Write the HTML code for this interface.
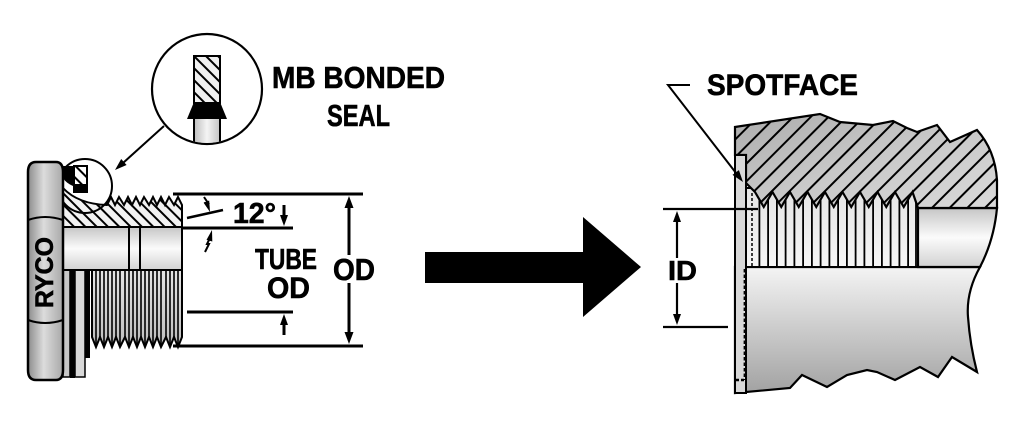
<!DOCTYPE html>
<html><head><meta charset="utf-8"><style>
html,body{margin:0;padding:0;background:#fff;}
svg{display:block;}
text{font-family:"Liberation Sans",sans-serif;font-weight:bold;fill:#000;stroke:#000;stroke-width:0.6;}
</style></head><body>
<svg width="1015" height="448" viewBox="0 0 1015 448" xmlns="http://www.w3.org/2000/svg">
<defs>
  <pattern id="hR" patternUnits="userSpaceOnUse" width="12.5" height="12.5" patternTransform="rotate(45)">
    <line x1="6" y1="0" x2="6" y2="12.5" stroke="#000" stroke-width="2"/>
  </pattern>
  <pattern id="hL" patternUnits="userSpaceOnUse" width="8" height="8" patternTransform="rotate(-45)">
    <line x1="4" y1="0" x2="4" y2="8" stroke="#000" stroke-width="2"/>
  </pattern>
  <pattern id="hI" patternUnits="userSpaceOnUse" width="8.5" height="8.5" patternTransform="rotate(-45)">
    <line x1="4" y1="0" x2="4" y2="8.5" stroke="#000" stroke-width="2"/>
  </pattern>
  <linearGradient id="gNut" x1="0" y1="0" x2="1" y2="0">
    <stop offset="0" stop-color="#8c8c8c"/><stop offset="0.45" stop-color="#dcdcdc"/><stop offset="1" stop-color="#a8a8a8"/>
  </linearGradient>
  <linearGradient id="gBody" x1="0" y1="0" x2="1" y2="1">
    <stop offset="0" stop-color="#acacac"/><stop offset="0.5" stop-color="#c8c8c8"/><stop offset="1" stop-color="#dadada"/>
  </linearGradient>
  <linearGradient id="gLow" x1="0" y1="0" x2="0" y2="1">
    <stop offset="0" stop-color="#f4f4f4"/><stop offset="1" stop-color="#a2a2a2"/>
  </linearGradient>
  <linearGradient id="gBore" x1="0" y1="0" x2="0" y2="1">
    <stop offset="0" stop-color="#c6c6c6"/><stop offset="0.5" stop-color="#fbfbfb"/><stop offset="1" stop-color="#d2d2d2"/>
  </linearGradient>
  <linearGradient id="gThr" x1="0" y1="0" x2="0" y2="1">
    <stop offset="0" stop-color="#e4e4e4"/><stop offset="1" stop-color="#f6f6f6"/>
  </linearGradient>
  <linearGradient id="gLT" x1="0" y1="0" x2="0" y2="1">
    <stop offset="0" stop-color="#e6e6e6"/><stop offset="1" stop-color="#bdbdbd"/>
  </linearGradient>
  <linearGradient id="gCol" x1="0" y1="0" x2="1" y2="0">
    <stop offset="0" stop-color="#bdbdbd"/><stop offset="0.5" stop-color="#f4f4f4"/><stop offset="1" stop-color="#c4c4c4"/>
  </linearGradient>
  <clipPath id="cInset"><circle cx="207" cy="89" r="54"/></clipPath>
</defs>

<!-- ============ LEFT FITTING ============ -->
<rect x="63" y="268" width="7" height="109" fill="#c8c8c8" stroke="#000" stroke-width="1.5"/>
<rect x="70" y="268" width="5" height="110" fill="#000"/>
<rect x="75" y="268" width="10" height="109" fill="#d8d8d8" stroke="#000" stroke-width="1.5"/>
<rect x="85" y="268" width="5" height="90" fill="#000"/>
<path d="M92,270 L182,270 L182,337 L178,347 L174,337 L170,347 L166,337 L161,347 L157,337 L153,347 L149,337 L145,347 L141,337 L137,347 L133,337 L129,347 L125,337 L120,347 L116,337 L112,347 L108,337 L104,347 L100,337 L96,347 L92,337 Z" fill="url(#gLT)" stroke="#000" stroke-width="2"/>
<g stroke="#000" stroke-width="1.6">
  <line x1="96" y1="270" x2="96" y2="346"/><line x1="100" y1="270" x2="100" y2="337"/>
  <line x1="104" y1="270" x2="104" y2="346"/><line x1="108" y1="270" x2="108" y2="337"/>
  <line x1="112" y1="270" x2="112" y2="346"/><line x1="116" y1="270" x2="116" y2="337"/>
  <line x1="120" y1="270" x2="120" y2="346"/><line x1="125" y1="270" x2="125" y2="337"/>
  <line x1="129" y1="270" x2="129" y2="346"/><line x1="133" y1="270" x2="133" y2="337"/>
  <line x1="137" y1="270" x2="137" y2="346"/><line x1="141" y1="270" x2="141" y2="337"/>
  <line x1="145" y1="270" x2="145" y2="346"/><line x1="149" y1="270" x2="149" y2="337"/>
  <line x1="153" y1="270" x2="153" y2="346"/><line x1="157" y1="270" x2="157" y2="337"/>
  <line x1="161" y1="270" x2="161" y2="346"/><line x1="166" y1="270" x2="166" y2="337"/>
  <line x1="170" y1="270" x2="170" y2="346"/><line x1="174" y1="270" x2="174" y2="337"/>
  <line x1="178" y1="270" x2="178" y2="346"/>
</g>
<rect x="63" y="227" width="119" height="43" fill="url(#gBore)" stroke="#000" stroke-width="2"/>
<line x1="129" y1="227" x2="129" y2="270" stroke="#000" stroke-width="2"/>
<line x1="140" y1="227" x2="140" y2="270" stroke="#000" stroke-width="2"/>
<path d="M63,227 L63,188 Q78,204 107,205 L111,197 L115,205 L119,197 L124,205 L128,197 L132,205 L136,197 L140,205 L144,197 L149,205 L153,197 L157,205 L161,197 L165,205 L169,197 L174,205 L178,197 L182,205 L182,227 Z" fill="#f2f2f2"/>
<path d="M63,227 L63,188 Q78,204 107,205 L111,197 L115,205 L119,197 L124,205 L128,197 L132,205 L136,197 L140,205 L144,197 L149,205 L153,197 L157,205 L161,197 L165,205 L169,197 L174,205 L178,197 L182,205 L182,227 Z" fill="url(#hL)" stroke="#000" stroke-width="2"/>
<path d="M63,166 L73,166 L73,186 Q66,183 63,178 Z" fill="#000"/>
<rect x="74" y="166" width="13" height="26" fill="#fff" stroke="#000" stroke-width="2"/>
<rect x="74" y="166" width="13" height="18" fill="url(#hI)"/>
<rect x="73" y="184" width="15" height="8" fill="#000"/>
<circle cx="85" cy="186" r="27" fill="none" stroke="#000" stroke-width="2"/>

<path d="M36,162 L56,162 Q63,162 63,172 L63,370 Q63,380 56,380 L36,380 Q28,380 28,370 L28,172 Q28,162 36,162 Z" fill="url(#gNut)" stroke="#000" stroke-width="2.5"/>
<path d="M28,220 Q45,214 63,220" fill="none" stroke="#000" stroke-width="2"/>
<path d="M28,320 Q45,326 63,320" fill="none" stroke="#000" stroke-width="2"/>
<text transform="translate(53,308) rotate(-90)" font-size="25" textLength="71" lengthAdjust="spacingAndGlyphs">RYCO</text>

<circle cx="207" cy="89" r="55" fill="#fff" stroke="#000" stroke-width="2.2"/>
<g clip-path="url(#cInset)">
  <rect x="194" y="118" width="26" height="40" fill="url(#gCol)" stroke="#000" stroke-width="2"/>
</g>
<rect x="194" y="56" width="26" height="47" fill="#f0f0f0" stroke="#000" stroke-width="2"/>
<rect x="194" y="56" width="26" height="47" fill="url(#hI)" stroke="#000" stroke-width="2"/>
<polygon points="194,102 220,102 227,119 187,119" fill="#000"/>
<line x1="164" y1="126" x2="123" y2="163" stroke="#000" stroke-width="2"/>
<polygon points="115,170 126.6,165 121.2,159" fill="#000"/>

<text x="272" y="88" font-size="31" textLength="173" lengthAdjust="spacingAndGlyphs">MB BONDED</text>
<text x="327" y="126" font-size="31" textLength="63" lengthAdjust="spacingAndGlyphs">SEAL</text>

<g stroke="#000" stroke-width="3">
  <line x1="173" y1="194" x2="363" y2="194"/>
  <line x1="173" y1="346" x2="363" y2="346"/>
  <line x1="349" y1="204" x2="349" y2="255"/>
  <line x1="349" y1="283" x2="349" y2="336"/>
  <line x1="182" y1="228" x2="293" y2="228"/>
  <line x1="187" y1="312" x2="293" y2="312"/>
  <line x1="284" y1="205" x2="284" y2="218"/>
  <line x1="284" y1="322" x2="284" y2="335"/>
</g>
<polygon points="349,196 344.5,208 353.5,208" fill="#000"/>
<polygon points="349,344 344.5,332 353.5,332" fill="#000"/>
<polygon points="284,226 280,215 288,215" fill="#000"/>
<polygon points="284,314 280,325 288,325" fill="#000"/>
<line x1="187" y1="218" x2="223" y2="210" stroke="#000" stroke-width="2.5"/>
<polyline points="204,197 208,203 206,203 208,206" fill="none" stroke="#000" stroke-width="2"/>
<polygon points="210,212 209.2,200.5 203.6,202.7" fill="#000"/>
<polyline points="205,252 209,244 207,244 210,238" fill="none" stroke="#000" stroke-width="2"/>
<polygon points="212,230 212.3,241.5 206.5,239.9" fill="#000"/>
<text x="233" y="223" font-size="29" textLength="43" lengthAdjust="spacingAndGlyphs">12°</text>
<text x="255" y="269" font-size="29" textLength="62" lengthAdjust="spacingAndGlyphs">TUBE</text>
<text x="267" y="298" font-size="30" textLength="43" lengthAdjust="spacingAndGlyphs">OD</text>
<text x="333" y="280" font-size="31" textLength="42" lengthAdjust="spacingAndGlyphs">OD</text>

<!-- ============ BIG ARROW ============ -->
<polygon points="425,252 583,252 583,217 641,267 583,317 583,283 425,283" fill="#000"/>

<!-- ============ RIGHT PORT ============ -->
<path d="M746,267 L980,267 Q966,292 968,317 Q970,345 977,372 L952,357 L938,377 L920,367 L895,380 L877,372 L867,370 L847,375 L827,387 L802,375 L790,388 L735,393 L735,267 Z" fill="url(#gLow)" stroke="#000" stroke-width="2.2"/>
<path d="M918,208 L997,208 Q994,240 980,267 L918,267 Z" fill="url(#gBore)" stroke="#000" stroke-width="2.2"/>
<rect x="746" y="188" width="172" height="79" fill="url(#gThr)" stroke="#000" stroke-width="2"/>
<g stroke="#000" stroke-width="1.8">
  <line x1="759.4" y1="199" x2="759.4" y2="267"/><line x1="768.1" y1="199" x2="768.1" y2="267"/>
  <line x1="776.9" y1="199" x2="776.9" y2="267"/><line x1="785.6" y1="199" x2="785.6" y2="267"/>
  <line x1="794.4" y1="199" x2="794.4" y2="267"/><line x1="803.1" y1="199" x2="803.1" y2="267"/>
  <line x1="811.9" y1="199" x2="811.9" y2="267"/><line x1="820.6" y1="199" x2="820.6" y2="267"/>
  <line x1="829.4" y1="199" x2="829.4" y2="267"/><line x1="838.1" y1="199" x2="838.1" y2="267"/>
  <line x1="846.9" y1="199" x2="846.9" y2="267"/><line x1="855.6" y1="199" x2="855.6" y2="267"/>
  <line x1="864.4" y1="199" x2="864.4" y2="267"/><line x1="873.1" y1="199" x2="873.1" y2="267"/>
  <line x1="881.9" y1="199" x2="881.9" y2="267"/><line x1="890.6" y1="199" x2="890.6" y2="267"/>
  <line x1="899.4" y1="199" x2="899.4" y2="267"/><line x1="908.1" y1="199" x2="908.1" y2="267"/>
  <line x1="916" y1="199" x2="916" y2="267"/>
</g>
<line x1="752" y1="193" x2="752" y2="267" stroke="#000" stroke-width="1.5" stroke-dasharray="3,2"/>
<path d="M735,127 L820,114 L840,122 L873,125 L893,121 L907,128 L917,132 L937,125 L950,142 L977,130 Q995,150 997,180 L997,208 L918,208 L912.5,192 L903.75,207 L895,192 L886.25,207 L877.5,192 L868.75,207 L860,192 L851.25,207 L842.5,192 L833.75,207 L825,192 L816.25,207 L807.5,192 L798.75,207 L790,192 L781.25,207 L772.5,192 L763.75,207 L755,192 L746,183 L746,155 L735,155 Z" fill="url(#gBody)"/>
<path d="M735,127 L820,114 L840,122 L873,125 L893,121 L907,128 L917,132 L937,125 L950,142 L977,130 Q995,150 997,180 L997,208 L918,208 L912.5,192 L903.75,207 L895,192 L886.25,207 L877.5,192 L868.75,207 L860,192 L851.25,207 L842.5,192 L833.75,207 L825,192 L816.25,207 L807.5,192 L798.75,207 L790,192 L781.25,207 L772.5,192 L763.75,207 L755,192 L746,183 L746,155 L735,155 Z" fill="url(#hR)" stroke="#000" stroke-width="2.2"/>
<rect x="735" y="155" width="11" height="238" fill="#d8d8d8" stroke="#000" stroke-width="2"/>
<line x1="745" y1="269" x2="745" y2="380" stroke="#000" stroke-width="2.8" stroke-dasharray="3.5,2"/>
<line x1="736" y1="380" x2="745" y2="380" stroke="#000" stroke-width="2.5" stroke-dasharray="3,2"/>

<polyline points="690,85 668,85 736,173" fill="none" stroke="#000" stroke-width="2"/>
<polygon points="743,182 738.9,170.1 732.5,174.9" fill="#000"/>
<text x="707" y="95" font-size="30" textLength="151" lengthAdjust="spacingAndGlyphs">SPOTFACE</text>

<g stroke="#000" stroke-width="2.2">
  <line x1="663" y1="209" x2="758" y2="209"/>
  <line x1="663" y1="327" x2="728" y2="327"/>
  <line x1="677" y1="220" x2="677" y2="258"/>
  <line x1="677" y1="283" x2="677" y2="316"/>
</g>
<polygon points="677,211 673,222 681,222" fill="#000"/>
<polygon points="677,325 673,314 681,314" fill="#000"/>
<text x="668" y="280" font-size="28" textLength="29" lengthAdjust="spacingAndGlyphs">ID</text>
</svg>
</body></html>
